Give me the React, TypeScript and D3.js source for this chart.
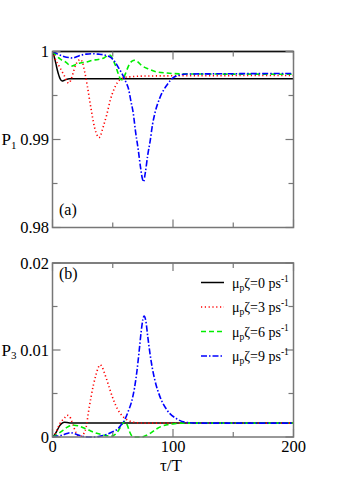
import React from "react";
import * as d3 from "d3";

// tau/T values and populations
const p1Zeta0: [number, number][] = [
  [0, 1], [1, 0.9996], [2, 0.9991], [3, 0.9985], [4, 0.9979], [5, 0.9974], [6, 0.997],
  [7, 0.99675], [8, 0.99665], [9, 0.99668], [11, 0.9968], [14, 0.9969], [200, 0.9969],
];
const p1Zeta3: [number, number][] = [
  [0, 1], [1.5, 0.9995], [3, 0.9989], [4.5, 0.9986], [6, 0.9982], [8, 0.9977], [10, 0.9972],
  [12, 0.9966], [13.5, 0.9964], [15, 0.9967], [17, 0.9975], [19, 0.9984], [21, 0.9989],
  [23, 0.9991], [25, 0.9987], [27, 0.9975], [29, 0.996], [31, 0.9943], [33, 0.9927],
  [35, 0.9913], [37, 0.9905], [38.5, 0.9902], [40, 0.9905], [42, 0.9914], [45, 0.9928],
  [48, 0.9945], [51, 0.9957], [54, 0.9965], [57, 0.9969], [62, 0.9971], [80, 0.99722],
  [200, 0.99728],
];
const p1Zeta6: [number, number][] = [
  [0, 1], [2, 0.9997], [4, 0.9994], [6, 0.9992], [8, 0.999], [11, 0.9988], [14, 0.99845],
  [16, 0.99835], [19, 0.9985], [23, 0.9987], [28, 0.9988], [33, 0.999], [38, 0.9991],
  [43, 0.9993], [47, 0.9996], [48.5, 0.9995], [50, 0.9991], [52, 0.9985], [54.5, 0.9975],
  [56.5, 0.99685], [58, 0.9968], [60, 0.9973], [62, 0.998], [64, 0.9986], [66, 0.9989],
  [68, 0.999], [70, 0.9989], [74, 0.9984], [80, 0.998], [86, 0.9977], [95, 0.99755],
  [110, 0.99745], [200, 0.99742],
];
const p1Zeta9: [number, number][] = [
  [0, 1], [3, 0.9998], [6, 0.9996], [10, 0.9994], [14, 0.9993], [17, 0.99925], [20, 0.9994],
  [24, 0.9996], [28, 0.9997], [33, 0.99975], [38, 0.9997], [43, 0.9996], [48, 0.99935],
  [52, 0.9988], [55, 0.9981], [58, 0.9974], [61, 0.9965], [63, 0.9958], [65, 0.9944],
  [67, 0.993], [69, 0.9908], [71, 0.989], [73, 0.9869], [74.5, 0.9856], [75.5, 0.9852],
  [77, 0.9862], [79, 0.9882], [81, 0.9898], [83, 0.9917], [85, 0.993], [89, 0.9947],
  [95, 0.9962], [101, 0.9971], [111, 0.99744], [200, 0.9975],
];

const p3Zeta0: [number, number][] = [
  [0, 0], [2, 0.0003], [4, 0.0008], [6, 0.0013], [8, 0.0016], [10, 0.0017], [12, 0.00168],
  [15, 0.0016], [200, 0.0016],
];
const p3Zeta3: [number, number][] = [
  [0, 0], [2, 0.0003], [4, 0.0009], [6, 0.0015], [8, 0.0019], [10, 0.0022], [12, 0.0025],
  [14, 0.0024], [16, 0.0018], [18, 0.001], [20, 0.0004], [22, 0.0001], [24, 0.0001],
  [26, 0.0004], [28, 0.0012], [30, 0.003], [32, 0.0046], [34, 0.006], [36, 0.0071],
  [38, 0.008], [39.5, 0.0083], [41, 0.0081], [43, 0.0074], [45, 0.0066], [48, 0.0053],
  [50.5, 0.0043], [54, 0.0032], [58.8, 0.0023], [63, 0.0019], [67, 0.0017], [75, 0.0016],
  [200, 0.0016],
];
const p3Zeta6: [number, number][] = [
  [0, 0], [3, 0.0002], [6, 0.0005], [9, 0.0008], [12, 0.0011], [15, 0.0013], [18, 0.00135],
  [21, 0.0013], [25, 0.0011], [30, 0.0008], [35, 0.0005], [40, 0.0003], [45, 0.00015],
  [49, 0.0001], [52, 0.0003], [55, 0.0008], [58, 0.0015], [60, 0.0018], [62, 0.0014],
  [64, 0.0006], [66, 0.0001], [68, 0], [74, 0], [78, 0.0002], [82, 0.0005], [86, 0.0009],
  [90, 0.0012], [95, 0.0014], [100, 0.0015], [110, 0.0016], [200, 0.0016],
];
const p3Zeta9: [number, number][] = [
  [0, 0], [4, 0.0001], [8, 0.0002], [12, 0.0004], [15, 0.0005], [18, 0.0004], [22, 0.0002],
  [26, 0.00005], [30, 0], [35, 0], [40, 0.0001], [45, 0.0003], [50, 0.0006], [54, 0.0009],
  [57, 0.0014], [60, 0.002], [63, 0.003], [65.5, 0.004], [68, 0.0056], [70, 0.0075],
  [72, 0.01], [73.5, 0.012], [75, 0.0135], [76, 0.0139], [77.5, 0.0133], [79, 0.0116],
  [81, 0.0095], [83, 0.0078], [85, 0.0065], [89, 0.0047], [95, 0.0031], [103, 0.0021],
  [111, 0.00168], [120, 0.0016], [200, 0.0016],
];

const zetaLabels = ["0", "3", "6", "9"];
const xTickLabels = ["0", "100", "200"];
const p1TickLabels = ["0.98", "0.99", "1"];
const p3TickLabels = ["0", "0.01", "0.02"];

const colors = ["#000000", "#ff0000", "#00ee00", "#0000ff"];
const dashes = ["none", "1.2,2.6", "5,3", "6,2,1.5,2"];
const FONT = "'Liberation Serif', 'Times New Roman', serif";

const W = 346;
const H = 490;
const X0 = 52.5;
const X1 = 293.5;

function Panel({ top, bottom, domain, series, yLabels, ySub, showX, tag, id, topEdge }: any) {
  const x = d3.scaleLinear().domain([0, 200]).range([X0, X1]);
  const y = d3.scaleLinear().domain(domain).range([bottom, top]);
  const line = d3
    .line<[number, number]>()
    .x((d) => x(d[0]))
    .y((d) => y(d[1]))
    .curve(d3.curveMonotoneX);

  const xt = x.ticks(4);
  const yt = y.ticks(4);
  const step = (domain[1] - domain[0]) / 2;
  const isMajorY = (v: number) => Math.abs(Math.round((v - domain[0]) / step) * step - (v - domain[0])) < 1e-9;

  return (
    <g>
      <defs>
        <clipPath id={id}>
          <rect x={X0} y={top - 1} width={X1 - X0} height={bottom - top + 2} />
        </clipPath>
      </defs>
      <g clipPath={`url(#${id})`}>
        {series.map((s: [number, number][], i: number) => (
          <path
            key={i}
            d={line(s) || ""}
            fill="none"
            stroke={colors[i]}
            strokeWidth={i === 0 ? 1.5 : 1.6}
            strokeDasharray={dashes[i]}
          />
        ))}
      </g>
      <rect x={X0} y={top} width={X1 - X0} height={bottom - top} fill="none" stroke="#777" strokeWidth={1.5} />
      <line x1={X0} x2={X1} y1={top} y2={top} stroke={topEdge} strokeWidth={1.5} />
      {xt.map((t) => {
        const len = t % 100 === 0 ? 8 : 5;
        return (
          <g key={"x" + t} stroke="#777" strokeWidth={1.2}>
            <line x1={x(t)} x2={x(t)} y1={bottom} y2={bottom - len} />
            <line x1={x(t)} x2={x(t)} y1={top} y2={top + len} />
          </g>
        );
      })}
      {yt.map((t) => {
        const len = isMajorY(t) ? 8 : 5;
        return (
          <g key={"y" + t} stroke="#777" strokeWidth={1.2}>
            <line x1={X0} x2={X0 + len} y1={y(t)} y2={y(t)} />
            <line x1={X1} x2={X1 - len} y1={y(t)} y2={y(t)} />
          </g>
        );
      })}
      {yLabels.map((lab: string, i: number) => (
        <text key={lab} x={49} y={y(domain[0] + i * step) + 5.5} textAnchor="end" fontSize={16.5} fontFamily={FONT}>
          {lab}
        </text>
      ))}
      {showX &&
        xTickLabels.map((lab, i) => (
          <text key={lab} x={x(i * 100)} y={452} textAnchor="middle" fontSize={16.5} fontFamily={FONT}>
            {lab}
          </text>
        ))}
      <text x={1.5} y={y(domain[0] + step) + 5.5} fontSize={17} fontFamily={FONT}>
        P
        <tspan fontSize={11} dy={3.5}>{ySub}</tspan>
      </text>
      <text x={59} y={tag === "a" ? 215 : 279} fontSize={16} fontFamily={FONT}>
        ({tag})
      </text>
    </g>
  );
}

export default function App() {
  const rows = [282.5, 307, 331.5, 356];
  return (
    <svg width={W} height={H} style={{ position: "absolute", left: 0, top: 0, background: "#fff" }}>
      <rect width={W} height={H} fill="#fff" />
      <Panel
        id="clipA"
        top={51.5}
        bottom={227.5}
        domain={[0.98, 1]}
        series={[p1Zeta0, p1Zeta3, p1Zeta6, p1Zeta9]}
        yLabels={p1TickLabels}
        ySub="1"
        showX={false}
        tag="a"
        topEdge="#111"
      />
      <Panel
        id="clipB"
        top={263}
        bottom={437}
        domain={[0, 0.02]}
        series={[p3Zeta0, p3Zeta3, p3Zeta6, p3Zeta9]}
        yLabels={p3TickLabels}
        ySub="3"
        showX={true}
        tag="b"
        topEdge="#777"
      />
      {zetaLabels.map((z, i) => (
        <g key={z}>
          <line x1={201} x2={224} y1={rows[i]} y2={rows[i]} stroke={colors[i]} strokeWidth={1.5} strokeDasharray={dashes[i]} />
          <text x={232} y={rows[i] + 5} fontSize={14} fontFamily={FONT}>
            μ<tspan fontSize={9.5} dy={3}>p</tspan>
            <tspan dy={-3}>ζ=</tspan>
            {z} ps
            <tspan fontSize={9.5} dy={-6}>-1</tspan>
          </text>
        </g>
      ))}
      <text x={171} y={471} textAnchor="middle" fontSize={17} fontFamily={FONT}>
        τ/T
      </text>
    </svg>
  );
}
